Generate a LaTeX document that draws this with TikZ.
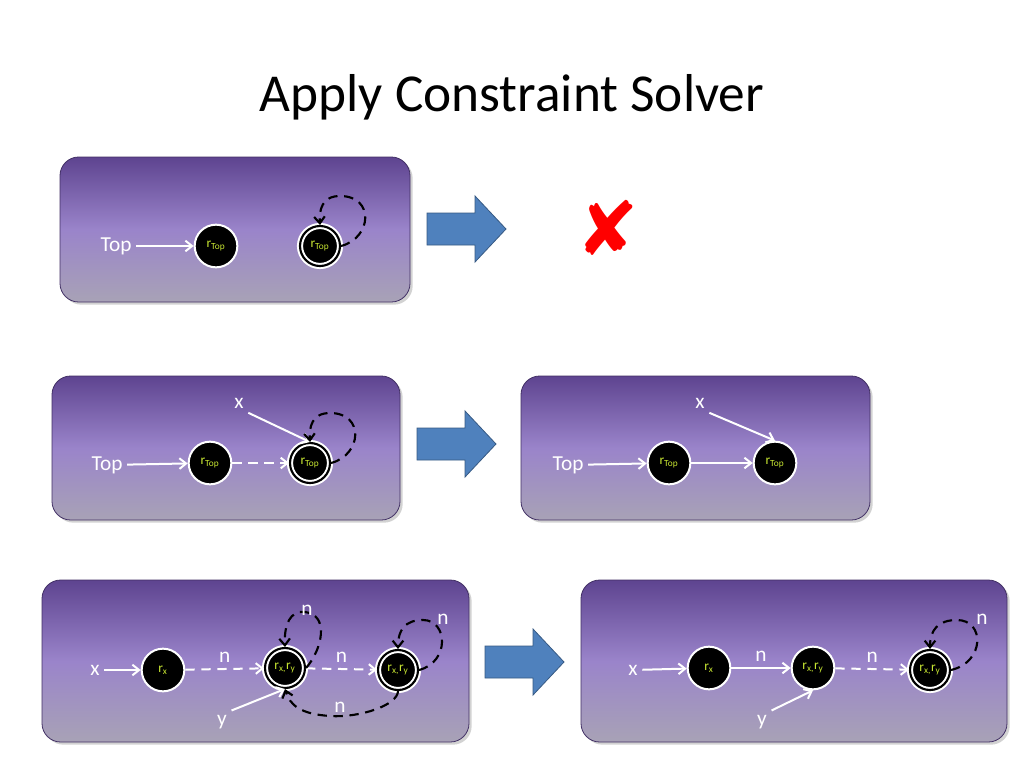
\documentclass[tikz,border=0pt]{standalone}
\usepackage{fontspec}
\setmainfont{Carlito}
\newfontfamily\dejavu{DejaVu Sans}
\usetikzlibrary{arrows.meta,shadows}
\definecolor{ptop}{HTML}{5E4490}
\definecolor{pmid}{HTML}{9A84CA}
\definecolor{pbot}{HTML}{A8A2B6}
\definecolor{lblc}{HTML}{C8E632}
\definecolor{barrow}{HTML}{4F81BD}
\tikzset{
 panel/.style={rounded corners=14pt, top color=ptop, bottom color=pbot, middle color=pmid, draw=ptop!70!black, line width=0.6pt, drop shadow={opacity=0.35,shadow xshift=2pt,shadow yshift=-2pt}},
 st/.style={circle, fill=black, draw=white, line width=1.5pt, minimum size=32pt, inner sep=0pt, font=\fontsize{10}{10}\selectfont, text=lblc},
 acc/.style={st, double=black, double distance=1.6pt, minimum size=30pt},
 lbl/.style={text=white, font=\fontsize{16}{16}\selectfont},
 wa/.style={draw=white, line width=1.5pt, -{Straight Barb[length=5pt,width=8pt]}},
 wd/.style={wa, dash pattern=on 7pt off 5pt},
 bd/.style={draw=black, line width=1.6pt, dash pattern=on 7pt off 5pt, -{Straight Barb[length=5pt,width=8pt]}},
 barrowst/.style={fill=barrow, draw=barrow!70!black, line width=0.6pt},
}
\newcommand{\rT}{r\textsubscript{Top}}
\newcommand{\rx}{r\textsubscript{x}}
\newcommand{\rxy}{r\textsubscript{x,}r\textsubscript{y}}
\begin{document}
\begin{tikzpicture}[x=0.75pt,y=-0.75pt]
\useasboundingbox (0,0) rectangle (1024,768);
\fill[white] (0,0) rectangle (1024,768);
\node[font=\fontsize{40}{40}\selectfont] (title) at (512,97) {Apply Constraint Solver};
% panels
\path[panel] (60,157) rectangle (410,302);
\path[panel] (52,376) rectangle (400,520);
\path[panel] (521,376) rectangle (870,520);
\path[panel] (42,580) rectangle (469,742);
\path[panel] (581,580) rectangle (1007,742);
% block arrows
\foreach \ax/\ay in {427/229, 417/444, 485/662}{
 \path[barrowst] (\ax,\ay-16) -- (\ax+48,\ay-16) -- (\ax+48,\ay-33) -- (\ax+79,\ay) -- (\ax+48,\ay+33) -- (\ax+48,\ay+16) -- (\ax,\ay+16) -- cycle;
}
\node[text=red, font=\dejavu\fontsize{56}{56}\selectfont] (xmark) at (608,228) {✘};
% panel 1
\node[lbl] (top1) at (116,246) {Top};
\node[st] (a1) at (216,246) {\rT};
\node[acc] (a2) at (320,246) {\rT};
\draw[wa] (top1) -- (a1);
\draw[bd] (a2.east) .. controls (372,238) and (375,196) .. (340,196) .. controls (322,196) and (319,210) .. (a2.north);
% panel 2
\node[lbl] (x2) at (239,403) {x};
\node[lbl] (top2) at (107,465) {Top};
\node[st] (b1) at (210,463) {\rT};
\node[acc] (b2) at (310,463) {\rT};
\draw[wa] (top2) -- (b1);
\draw[wd] (b1) -- (b2);
\draw[wa] (x2.south east) -- (b2.north);
\draw[bd] (b2.east) .. controls (362,455) and (365,413) .. (330,413) .. controls (312,413) and (309,427) .. (b2.north);
% panel 3
\node[lbl] (x3) at (700,403) {x};
\node[lbl] (top3) at (568,465) {Top};
\node[st] (c1) at (669,463) {\rT};
\node[st] (c2) at (775,463) {\rT};
\draw[wa] (top3) -- (c1);
\draw[wa] (c1) -- (c2);
\draw[wa] (x3.south east) -- (c2.north);
% panel 4
\node[lbl] (x4) at (95,670) {x};
\node[lbl] (y4) at (222,722) {y};
\node[st] (d1) at (163,670) {\rx};
\node[acc] (d2) at (285,668) {\rxy};
\node[acc] (d3) at (398,670) {\rxy};
\draw[wa] (x4) -- (d1);
\draw[wd] (d1) -- node[lbl,above=1pt] {n} (d2);
\draw[wd] (d2) -- node[lbl,above=1pt] {n} (d3);
\draw[wa] (y4.north east) -- (d2.south);
\draw[bd] (d2.east) .. controls (322,650) and (330,615) .. (305,612) .. controls (290,610) and (284,625) .. (d2.north);
\node[lbl] (n42) at (307,610) {n};
\draw[bd] (d3.east) .. controls (450,662) and (448,620) .. (423,620) .. controls (405,620) and (398,630) .. (d3.north);
\node[lbl] (n43) at (443,619) {n};
\draw[bd] (d3.south) .. controls (398,705) and (360,718) .. (330,716) .. controls (300,714) and (290,705) .. (d2.south);
\node[lbl] (n44) at (340,707) {n};
% panel 5
\node[lbl] (x5) at (633,670) {x};
\node[lbl] (y5) at (762,722) {y};
\node[st] (e1) at (709,668) {\rx};
\node[st] (e2) at (813,668) {\rxy};
\node[acc] (e3) at (930,670) {\rxy};
\draw[wa] (x5) -- (e1);
\draw[wa] (e1) -- node[lbl,above=1pt] {n} (e2);
\draw[wd] (e2) -- node[lbl,above=1pt] {n} (e3);
\draw[wa] (y5.north east) -- (e2.south);
\draw[bd] (e3.east) .. controls (985,662) and (985,620) .. (957,620) .. controls (938,620) and (930,630) .. (e3.north);
\node[lbl] (n53) at (982,619) {n};
\end{tikzpicture}
\end{document}
